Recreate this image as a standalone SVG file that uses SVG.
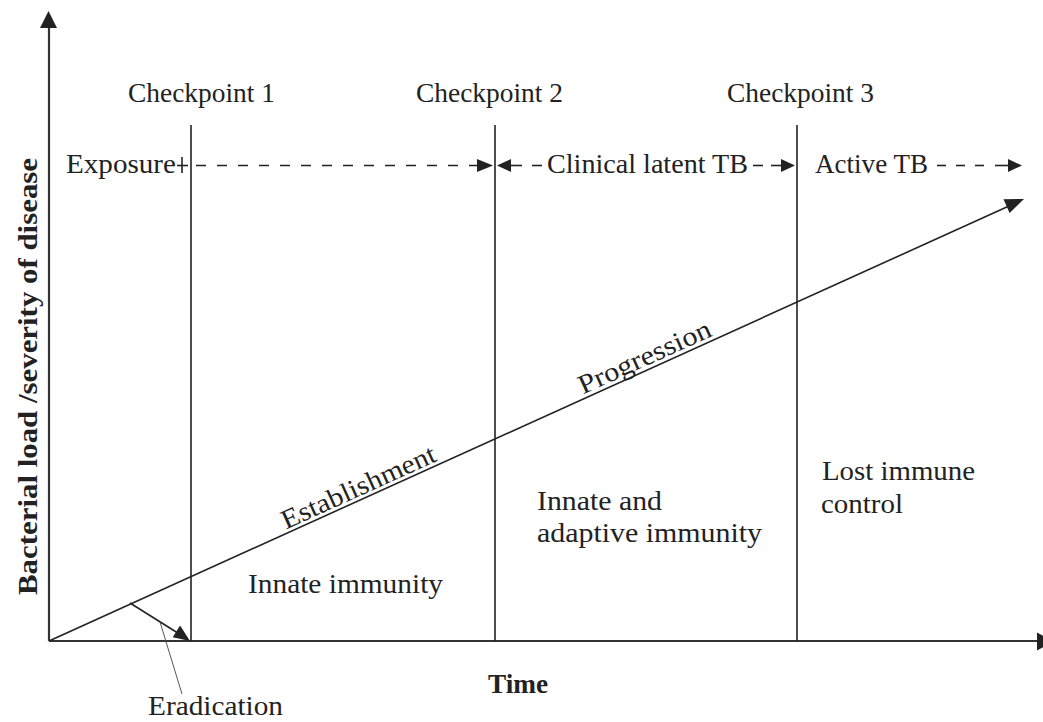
<svg xmlns="http://www.w3.org/2000/svg" width="1043" height="722" viewBox="0 0 1043 722">
<style>
text{font-family:"Liberation Serif","Times New Roman",serif;font-size:27px;fill:#222}
.b{font-weight:bold}
.ax{stroke:#333;stroke-width:2.2;fill:none}
.vl{stroke:#222;stroke-width:1.6;fill:none}
.ln{stroke:#222;stroke-width:1.6;fill:none}
.dash{stroke:#222;stroke-width:1.6;fill:none;stroke-dasharray:10 11}
.ah{fill:#222;stroke:none}
.thin{stroke:#444;stroke-width:0.9;fill:none}
</style>
<rect width="1043" height="722" fill="#fff"/>
<g id="connectors">
<line class="ax" x1="49" y1="641" x2="49" y2="26"/>
<polygon class="ah" points="48.5,11 40,28 57,28"/>
<line class="ax" x1="49" y1="641" x2="1038" y2="641"/>
<polygon class="ah" points="1037,632.5 1054,641.5 1037,650.5"/>
<line class="vl" x1="191" y1="125" x2="191" y2="641"/>
<line class="vl" x1="495" y1="125" x2="495" y2="641"/>
<line class="vl" x1="797" y1="125" x2="797" y2="641"/>
<line class="ln" x1="49" y1="641" x2="1009" y2="206"/>
<polygon class="ah" points="1024,199 1003.5,199.2 1009.6,212.9"/>
<line class="ln" x1="130" y1="603" x2="177" y2="632.5"/>
<polygon class="ah" points="190,641 172.7,637.3 180.1,625.4"/>
<line class="thin" x1="160" y1="622" x2="182" y2="694"/>
<line class="ln" x1="182" y1="157" x2="182" y2="173"/>
<line class="ln" x1="177" y1="165.5" x2="188" y2="165.5"/>
<line class="dash" x1="196" y1="165.5" x2="477" y2="165.5"/>
<polygon class="ah" points="493,165.5 477,159 477,172"/>
<polygon class="ah" points="497,165.5 511,159 511,172"/>
<line class="ln" x1="510" y1="165.5" x2="522" y2="165.5"/>
<line class="ln" x1="532" y1="165.5" x2="542" y2="165.5"/>
<line class="ln" x1="753" y1="165.5" x2="763" y2="165.5"/>
<line class="ln" x1="771" y1="165.5" x2="782" y2="165.5"/>
<polygon class="ah" points="795,165.5 781,159 781,172"/>
<line class="ln" x1="937" y1="165.5" x2="946" y2="165.5"/>
<line class="ln" x1="956" y1="165.5" x2="965" y2="165.5"/>
<line class="ln" x1="975" y1="165.5" x2="984" y2="165.5"/>
<line class="ln" x1="995" y1="165.5" x2="1008" y2="165.5"/>
<polygon class="ah" points="1022,165.5 1008,159 1008,172"/>
</g>
<g id="checkpoint1"><text x="128" y="102" textLength="147" lengthAdjust="spacingAndGlyphs">Checkpoint 1</text></g>
<g id="checkpoint2"><text x="416" y="102" textLength="147" lengthAdjust="spacingAndGlyphs">Checkpoint 2</text></g>
<g id="checkpoint3"><text x="727" y="102" textLength="147" lengthAdjust="spacingAndGlyphs">Checkpoint 3</text></g>
<g id="exposure"><text x="66" y="173" textLength="110" lengthAdjust="spacingAndGlyphs">Exposure</text></g>
<g id="latent"><text x="547" y="173" textLength="201" lengthAdjust="spacingAndGlyphs">Clinical latent TB</text></g>
<g id="active"><text x="815" y="173" textLength="113" lengthAdjust="spacingAndGlyphs">Active TB</text></g>
<g id="establishment"><text x="286" y="529.5" transform="rotate(-24.4 286 529.5)" textLength="167" lengthAdjust="spacingAndGlyphs">Establishment</text></g>
<g id="progression"><text x="583" y="394.5" transform="rotate(-24.4 583 394.5)" textLength="143" lengthAdjust="spacingAndGlyphs">Progression</text></g>
<g id="innate"><text x="248" y="593" textLength="195" lengthAdjust="spacingAndGlyphs">Innate immunity</text></g>
<g id="innate-adaptive">
<text x="537" y="510" textLength="125" lengthAdjust="spacingAndGlyphs">Innate and</text>
<text x="537" y="542" textLength="225" lengthAdjust="spacingAndGlyphs">adaptive immunity</text>
</g>
<g id="lost">
<text x="822" y="480" textLength="153" lengthAdjust="spacingAndGlyphs">Lost immune</text>
<text x="821" y="513" textLength="82" lengthAdjust="spacingAndGlyphs">control</text>
</g>
<g id="eradication"><text x="148" y="715" textLength="135" lengthAdjust="spacingAndGlyphs">Eradication</text></g>
<g id="time"><text class="b" x="488" y="693" textLength="60" lengthAdjust="spacingAndGlyphs">Time</text></g>
<g id="ylabel"><text class="b" x="37" y="376.5" text-anchor="middle" transform="rotate(-90 37 376.5)" textLength="437" lengthAdjust="spacingAndGlyphs">Bacterial load /severity of disease</text></g>
</svg>
